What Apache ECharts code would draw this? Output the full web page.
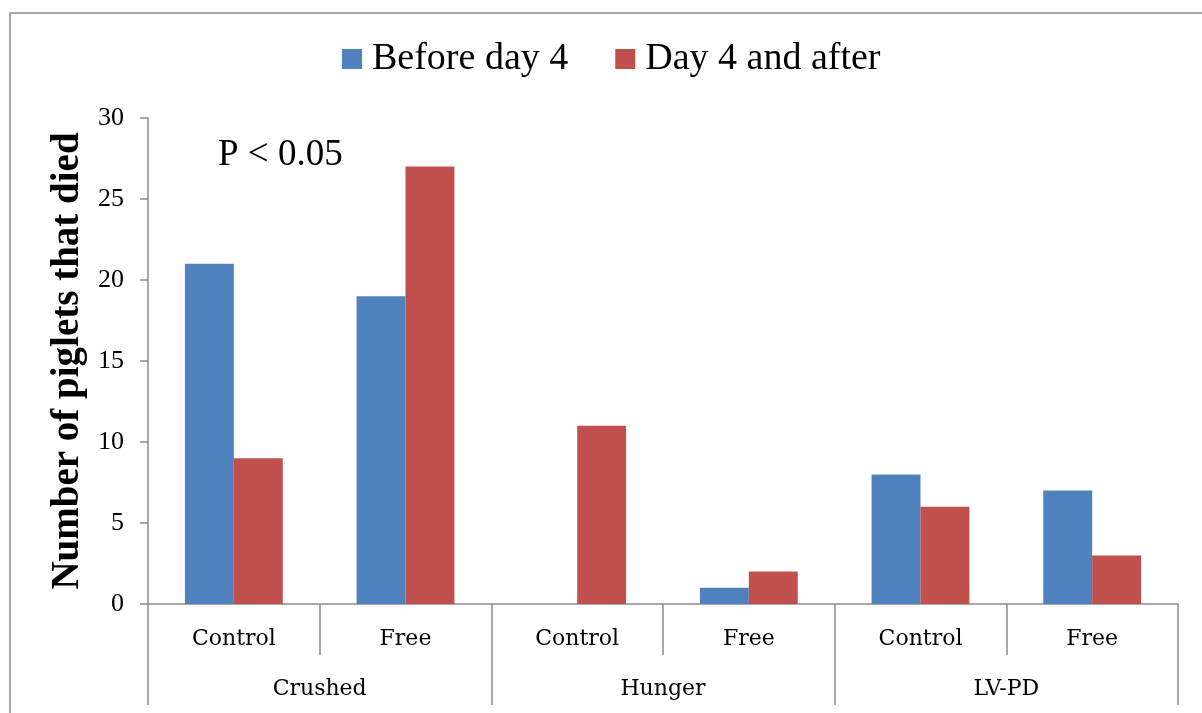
<!DOCTYPE html>
<html>
<head>
<meta charset="utf-8">
<script src="https://cdn.jsdelivr.net/npm/echarts@6/dist/echarts.min.js"></script>
<style>
html,body{margin:0;padding:0;background:#fff;}
#chart{width:1202px;height:713px;}
</style>
</head>
<body>
<div id="chart"></div>
<script>
const subCategories = ["Control", "Free", "Control", "Free", "Control", "Free"];
const groups = ["Crushed", "Hunger", "LV-PD"];
const seriesNames = ["Before day 4", "Day 4 and after"];
const beforeDay4 = [21, 19, 0, 1, 8, 7];
const day4AndAfter = [9, 27, 11, 2, 6, 3];
const yTicks = { min: 0, max: 30, interval: 5 };
const yTitle = "Number of piglets that died";
const annotation = "P < 0.05";

const axisGray = "#8c8c8c";
const chart = echarts.init(document.getElementById("chart"));
chart.setOption({
  animation: false,
  backgroundColor: "#fff",
  color: ["#4F81BD", "#C0504D"],
  graphic: [
    { type: "rect", shape: { x: 10, y: 13, width: 1230, height: 760 }, style: { fill: "none", stroke: "#8c8c8c", lineWidth: 1.5 } },
    { type: "text", x: 218, y: 155, style: { text: annotation, font: "37px 'Liberation Serif'", fill: "#000", verticalAlign: "middle" } }
  ],
  legend: {
    data: seriesNames,
    left: 337, top: 35,
    icon: "rect", itemWidth: 20, itemHeight: 20, itemGap: 47,
    textStyle: { fontFamily: "Liberation Serif", fontSize: 38, color: "#000", padding: [0, 0, 0, 5] }
  },
  grid: { left: 148, right: 24, top: 118, bottom: 109, containLabel: false },
  xAxis: [
    {
      type: "category", data: subCategories, position: "bottom",
      axisLine: { lineStyle: { color: axisGray, width: 1.5 } },
      axisTick: { show: true, interval: 0, length: 51, lineStyle: { color: axisGray, width: 1.5 } },
      axisLabel: { interval: 0, margin: 24, fontFamily: "DejaVu Serif", fontSize: 22, color: "#000" }
    },
    {
      type: "category", data: groups, position: "bottom",
      axisLine: { show: false },
      axisTick: { show: true, interval: 0, length: 101, lineStyle: { color: axisGray, width: 1.5 } },
      axisLabel: { interval: 0, margin: 74, fontFamily: "DejaVu Serif", fontSize: 22, color: "#000" }
    }
  ],
  yAxis: {
    type: "value", min: yTicks.min, max: yTicks.max, interval: yTicks.interval,
    name: yTitle, nameLocation: "middle", nameGap: 60,
    nameTextStyle: { fontFamily: "Liberation Serif", fontWeight: "bold", fontSize: 39, color: "#000" },
    axisLine: { show: true, lineStyle: { color: axisGray, width: 1.5 } },
    axisTick: { show: true, length: 8, lineStyle: { color: axisGray, width: 1.5 } },
    axisLabel: { margin: 24, fontFamily: "Liberation Serif", fontSize: 26, color: "#000" },
    splitLine: { show: false }
  },
  series: [
    { name: seriesNames[0], type: "bar", xAxisIndex: 0, data: beforeDay4, barGap: "0%", barCategoryGap: "43%" },
    { name: seriesNames[1], type: "bar", xAxisIndex: 0, data: day4AndAfter, barGap: "0%", barCategoryGap: "43%" }
  ]
});
</script>
</body>
</html>
